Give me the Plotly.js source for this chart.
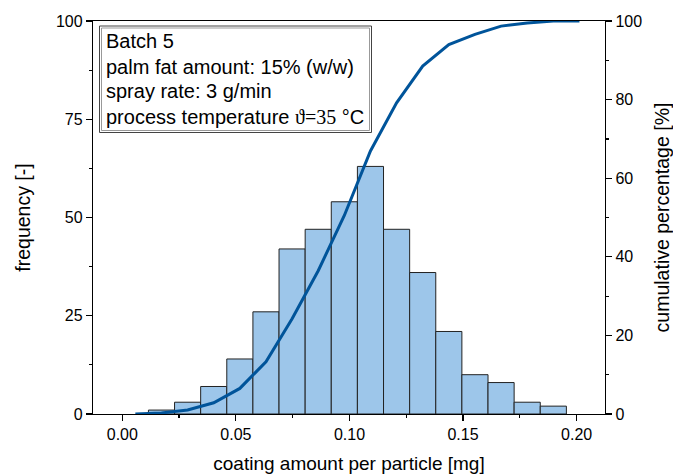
<!DOCTYPE html>
<html>
<head>
<meta charset="utf-8">
<script src="https://cdn.plot.ly/plotly-3.0.1.min.js"></script>
<style>html,body{margin:0;padding:0;background:#fff;} #chart{width:673px;height:474px;}</style>
</head>
<body>
<div id="chart"></div>
<script>
// ---- data ----
const binCenters = [0.01725, 0.02875, 0.04025, 0.05175, 0.06325, 0.07475, 0.08625, 0.09775,
                    0.10925, 0.12075, 0.13225, 0.14375, 0.15525, 0.16675, 0.17825, 0.18975];
const frequency  = [1, 3, 7, 14, 26, 42, 47, 54, 63, 47, 36, 21, 10, 8, 3, 2];
const binWidth = 0.0115;

const cumX   = [0.00575, 0.01725, 0.02875, 0.04025, 0.05175, 0.06325, 0.07475, 0.08625, 0.09775,
                0.10925, 0.12075, 0.13225, 0.14375, 0.15525, 0.16675, 0.17825, 0.18975, 0.20125];
const cumPct = [0, 0.26, 1.04, 2.86, 6.51, 13.28, 24.22, 36.46, 50.52,
                66.93, 79.17, 88.54, 94.01, 96.61, 98.70, 99.48, 100, 100];

const xTickVals = [0, 0.05, 0.10, 0.15, 0.20];
const xTickText = ["0.00", "0.05", "0.10", "0.15", "0.20"];
const yTickVals = [0, 25, 50, 75, 100];
const y2TickVals = [0, 20, 40, 60, 80, 100];

const infoLines = [
  "Batch 5",
  "palm fat amount: 15% (w/w)",
  "spray rate: 3 g/min",
  "process temperature <span style=\"font-family:'Liberation Serif', 'Times New Roman', serif\">ϑ=35</span> °C"
];

// ---- layout helpers (pixel -> paper) ----
const W = 673, H = 474;
const M = {l: 93, r: 68, t: 21, b: 60};
const PW = W - M.l - M.r, PH = H - M.t - M.b;
const px = x => (x - M.l) / PW;
const py = y => (H - M.b - y) / PH;

const FONT = "Liberation Sans, Arial, sans-serif";

const traces = [
  {
    type: "bar",
    x: binCenters,
    y: frequency,
    width: binWidth,
    marker: {color: "#9DC6EA", line: {color: "#222222", width: 1}},
    hoverinfo: "x+y",
    showlegend: false,
    yaxis: "y"
  },
  {
    type: "scatter",
    mode: "lines",
    x: cumX,
    y: cumPct,
    line: {color: "#00549A", width: 3},
    showlegend: false,
    yaxis: "y2"
  }
];

const annotations = infoLines.map((t, i) => ({
  xref: "paper", yref: "paper",
  x: px(103.5), y: py([47.7, 73.3, 97.8, 123.8][i] - 6.5),
  xanchor: "left", yanchor: "middle",
  text: t, showarrow: false,
  font: {family: FONT, size: 20, color: "#000"}
}));

const layout = {
  width: W, height: H,
  margin: M,
  paper_bgcolor: "#fff", plot_bgcolor: "#fff",
  font: {family: FONT, color: "#000"},
  showlegend: false,
  bargap: 0,
  xaxis: {
    range: [-0.0129, 0.2125],
    tickvals: xTickVals, ticktext: xTickText,
    ticks: "outside", ticklen: 6, tickwidth: 1.2, tickcolor: "#000",
    minor: {dtick: 0.025, tick0: 0, ticks: "outside", ticklen: 3, tickwidth: 1.2, tickcolor: "#000", showgrid: false},
    showline: true, linecolor: "#000", linewidth: 1.2, mirror: true,
    showgrid: false, zeroline: false,
    tickfont: {family: FONT, size: 16, color: "#000"},
    title: {text: "coating amount per particle [mg]", font: {family: FONT, size: 19, color: "#000"}, standoff: 15}
  },
  yaxis: {
    range: [0, 100],
    tickvals: yTickVals,
    ticks: "outside", ticklen: 6, tickwidth: 1.2, tickcolor: "#000",
    minor: {dtick: 12.5, tick0: 0, ticks: "outside", ticklen: 3, tickwidth: 1.2, tickcolor: "#000", showgrid: false},
    showline: true, linecolor: "#000", linewidth: 1.2,
    showgrid: false, zeroline: false,
    tickfont: {family: FONT, size: 16, color: "#000"},
    title: {text: "frequency [-]", font: {family: FONT, size: 19.5, color: "#000"}, standoff: 20}
  },
  yaxis2: {
    overlaying: "y", side: "right",
    range: [0, 100],
    tickvals: y2TickVals,
    ticks: "outside", ticklen: 6, tickwidth: 1.2, tickcolor: "#000",
    minor: {dtick: 10, tick0: 0, ticks: "outside", ticklen: 3, tickwidth: 1.2, tickcolor: "#000", showgrid: false},
    showline: true, linecolor: "#000", linewidth: 1.2,
    showgrid: false, zeroline: false,
    tickfont: {family: FONT, size: 16, color: "#000"},
    title: {text: "cumulative percentage [%]", font: {family: FONT, size: 19.5, color: "#000"}, standoff: 15}
  },
  shapes: [
    {type: "rect", xref: "paper", yref: "paper", layer: "above",
     x0: px(99.5), x1: px(371.5), y0: py(132.5), y1: py(26),
     line: {color: "#444444", width: 1}, fillcolor: "#ffffff"},
    {type: "rect", xref: "paper", yref: "paper", layer: "above",
     x0: px(101.5), x1: px(369.5), y0: py(130.5), y1: py(28),
     line: {color: "#999999", width: 1}, fillcolor: "rgba(0,0,0,0)"}
  ],
  annotations: annotations
};

Plotly.newPlot("chart", traces, layout, {displayModeBar: false, staticPlot: true});
</script>
</body>
</html>
